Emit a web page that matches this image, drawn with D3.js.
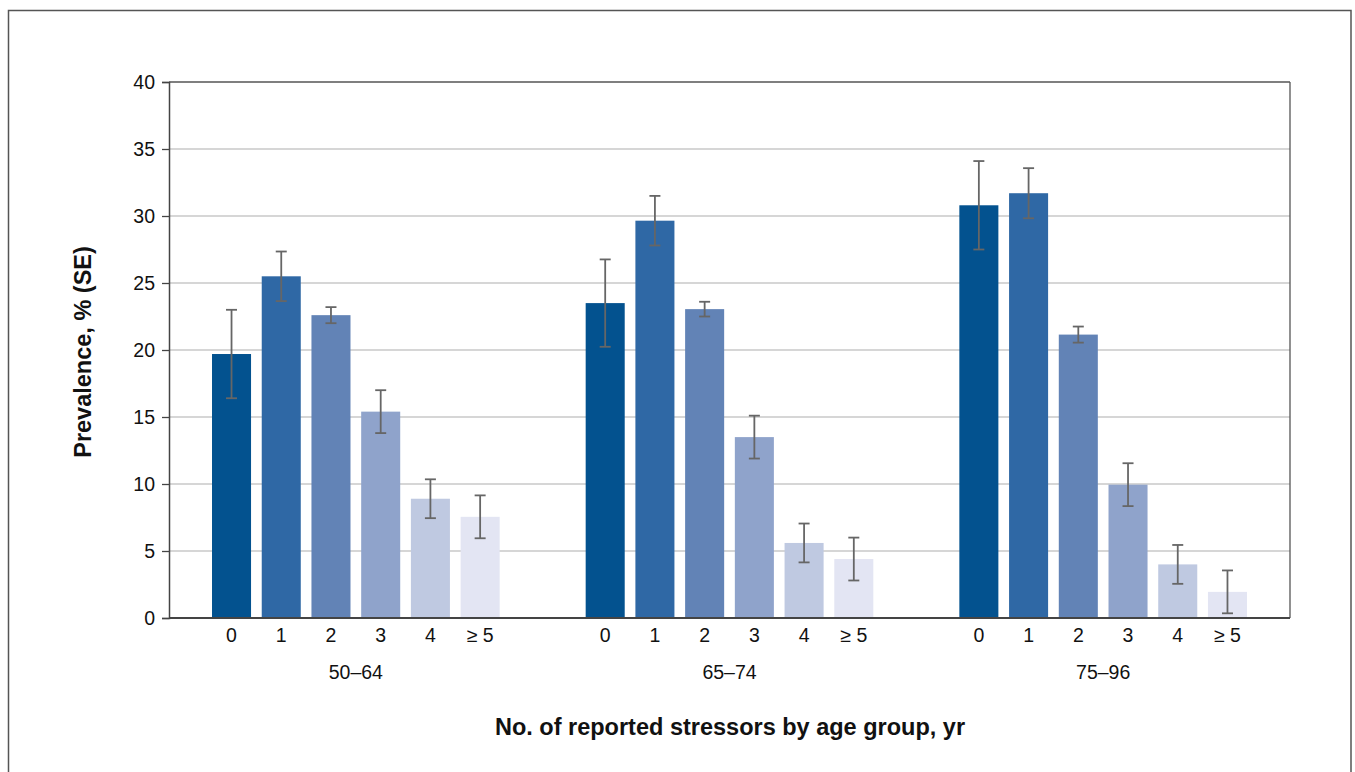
<!DOCTYPE html>
<html>
<head>
<meta charset="utf-8">
<script src="https://cdn.jsdelivr.net/npm/d3@7"></script>
<style>
html,body{margin:0;padding:0;background:#fff;}
svg{display:block;font-family:"Liberation Sans",Arial,Helvetica,sans-serif;}
</style>
</head>
<body>
<svg id="chart" width="1355" height="772"></svg>
<script>
const ageGroups = ["50–64", "65–74", "75–96"];
const stressors = ["0", "1", "2", "3", "4", "≥ 5"];
const prevalence = [
  [19.7, 25.5, 22.6, 15.4, 8.9, 7.55],
  [23.5, 29.65, 23.05, 13.5, 5.6, 4.4],
  [30.8, 31.7, 21.15, 9.95, 4.0, 1.95]
];
const standardErrors = [
  [3.3, 1.85, 0.6, 1.6, 1.45, 1.6],
  [3.26, 1.85, 0.55, 1.6, 1.45, 1.6],
  [3.3, 1.87, 0.6, 1.6, 1.45, 1.6]
];
const yTicks = [0, 5, 10, 15, 20, 25, 30, 35, 40];
const barColors = ["#03528f", "#2f68a5", "#6283b6", "#8fa3cb", "#bfc9e1", "#e3e5f3"];

(function () {
const svg = d3.select("#chart");
const pLeft = 169, pRight = 1290, pTop = 82, pBottom = 618;

// outer frame
svg.append("rect").attr("x", 8.5).attr("y", 10.5).attr("width", 1342.5).attr("height", 780)
  .attr("fill", "none").attr("stroke", "#555").attr("stroke-width", 1.5);

const y = d3.scaleLinear().domain([0, 40]).range([pBottom, pTop]);
const x0 = d3.scaleBand().domain(ageGroups).range([pLeft, pRight]).padding(0);
const x1 = d3.scaleBand().domain(stressors).range([0, x0.bandwidth()])
  .paddingInner(0.215).paddingOuter(0.865);

// gridlines
svg.append("g").selectAll("line").data(yTicks.filter(d => d > 0 && d < 40)).join("line")
  .attr("x1", pLeft).attr("x2", pRight)
  .attr("y1", d => y(d)).attr("y2", d => y(d))
  .attr("stroke", "#c8c8c8").attr("stroke-width", 1.5);

// bars
const data = [];
ageGroups.forEach((g, gi) => stressors.forEach((s, si) => {
  data.push({g, s, si, v: prevalence[gi][si], se: standardErrors[gi][si]});
}));

svg.append("g").selectAll("rect").data(data).join("rect")
  .attr("x", d => x0(d.g) + x1(d.s))
  .attr("y", d => y(d.v))
  .attr("width", x1.bandwidth())
  .attr("height", d => y(0) - y(d.v))
  .attr("fill", d => barColors[d.si]);

// error bars
const eb = svg.append("g").attr("stroke", "#666").attr("stroke-width", 1.8).attr("fill", "none");
data.forEach(d => {
  const cx = x0(d.g) + x1(d.s) + x1.bandwidth() / 2;
  const y1 = y(d.v + d.se), y2 = y(d.v - d.se);
  eb.append("line").attr("x1", cx).attr("x2", cx).attr("y1", y1).attr("y2", y2);
  eb.append("line").attr("x1", cx - 5.5).attr("x2", cx + 5.5).attr("y1", y1).attr("y2", y1);
  eb.append("line").attr("x1", cx - 5.5).attr("x2", cx + 5.5).attr("y1", y2).attr("y2", y2);
});

// plot frame: top and right
svg.append("line").attr("x1", pLeft).attr("x2", pRight).attr("y1", pTop).attr("y2", pTop)
  .attr("stroke", "#555").attr("stroke-width", 1.3);
svg.append("line").attr("x1", pRight).attr("x2", pRight).attr("y1", pTop).attr("y2", pBottom)
  .attr("stroke", "#555").attr("stroke-width", 1.3);

// y axis
const yAxis = svg.append("g").attr("transform", `translate(${pLeft},0)`)
  .call(d3.axisLeft(y).tickValues(yTicks).tickSize(7).tickPadding(7).tickFormat(d3.format("d")));
yAxis.select(".domain").attr("stroke", "#444").attr("stroke-width", 1.5);
yAxis.selectAll(".tick line").attr("stroke", "#444").attr("stroke-width", 1.3);
yAxis.selectAll(".tick text").attr("font-size", 19.5).attr("fill", "#111")
  .attr("font-family", "Liberation Sans, Arial, sans-serif");

// x baseline
svg.append("line").attr("x1", pLeft).attr("x2", pRight).attr("y1", pBottom).attr("y2", pBottom)
  .attr("stroke", "#444").attr("stroke-width", 1.8);

// category labels
const catG = svg.append("g").attr("font-size", 19.5).attr("fill", "#111").attr("text-anchor", "middle");
ageGroups.forEach(g => {
  stressors.forEach(s => {
    catG.append("text").attr("x", x0(g) + x1(s) + x1.bandwidth() / 2).attr("y", 642).text(s);
  });
  catG.append("text").attr("x", x0(g) + x1(stressors[0]) + (x1(stressors[5]) + x1.bandwidth() - x1(stressors[0])) / 2)
    .attr("y", 679).text(g);
});

// axis titles
svg.append("text").attr("x", 730).attr("y", 735).attr("text-anchor", "middle")
  .attr("font-size", 23.5).attr("font-weight", "bold").attr("fill", "#111")
  .text("No. of reported stressors by age group, yr");
svg.append("text").attr("transform", "translate(91,352) rotate(-90)").attr("text-anchor", "middle")
  .attr("font-size", 23.5).attr("font-weight", "bold").attr("fill", "#111")
  .text("Prevalence, % (SE)");
})();
</script>
</body>
</html>
